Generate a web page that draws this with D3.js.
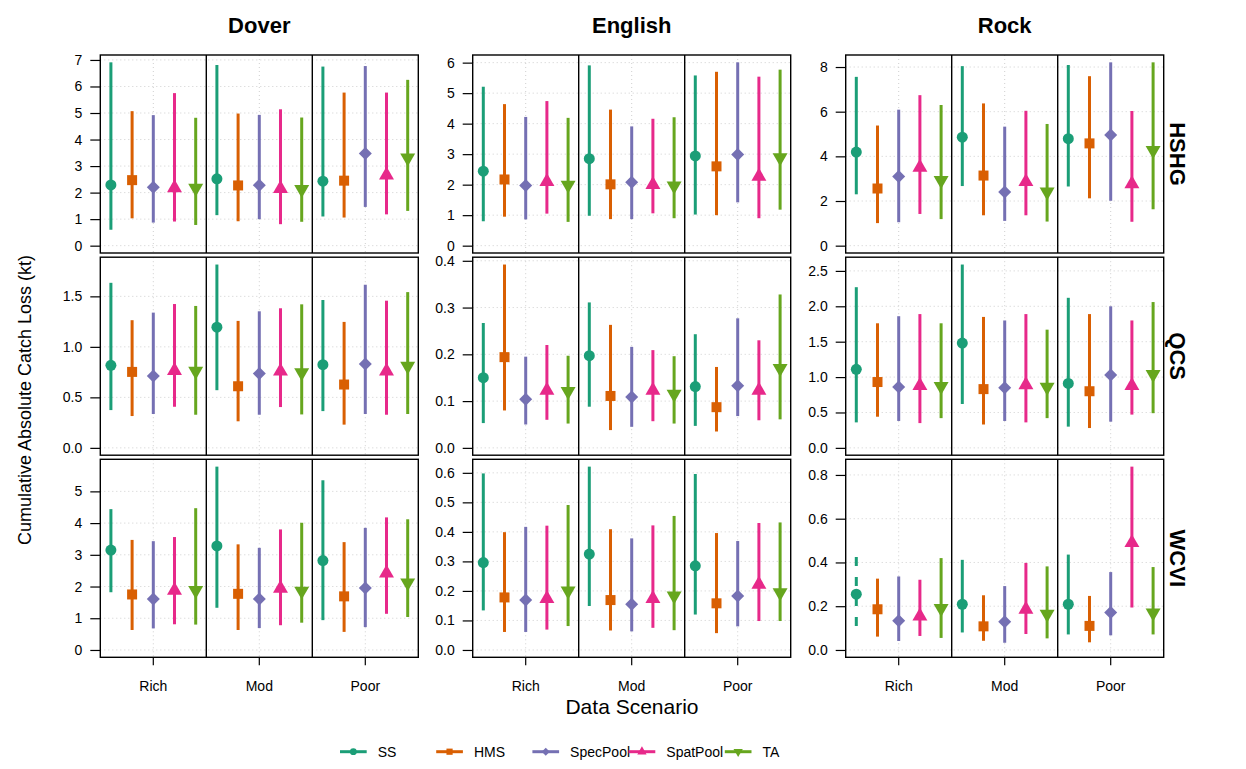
<!DOCTYPE html>
<html><head><meta charset="utf-8">
<script src="https://cdn.jsdelivr.net/npm/d3@7"></script>
<style>body{margin:0;background:#fff} text{font-family:"Liberation Sans",Arial,Helvetica,sans-serif;fill:#000}</style>
</head><body><svg id="c" width="1246" height="769"></svg>
<script>
const columns = ["Dover","English","Rock"];
const rows = ["HSHG","QCS","WCVI"];
const scenarios = ["Rich","Mod","Poor"];
const methods = ["SS","HMS","SpecPool","SpatPool","TA"];
const colors = ["#1B9E77","#D95F02","#7570B3","#E7298A","#66A61E"];

// each array: 15 values, order = Rich(SS,HMS,SpecPool,SpatPool,TA), Mod(...), Poor(...)
const doverHSHG_mid = [2.29,2.47,2.20,2.18,2.17, 2.52,2.27,2.28,2.15,2.12, 2.43,2.45,3.47,2.66,3.31];
const doverHSHG_lo  = [0.60,1.03,0.87,0.91,0.78, 1.15,0.92,1.00,0.81,0.90, 1.10,1.06,1.46,1.18,1.31];
const doverHSHG_hi  = [6.91,5.07,4.92,5.75,4.82, 6.81,4.98,4.93,5.14,4.83, 6.75,5.77,6.77,5.77,6.25];

const doverQCS_mid = [0.817,0.752,0.712,0.765,0.760, 1.195,0.610,0.735,0.758,0.745, 0.824,0.627,0.830,0.760,0.810];
const doverQCS_lo  = [0.374,0.315,0.335,0.407,0.328, 0.571,0.263,0.328,0.404,0.331, 0.364,0.230,0.335,0.328,0.335];
const doverQCS_hi  = [1.634,1.264,1.339,1.424,1.405, 1.815,1.257,1.352,1.382,1.421, 1.464,1.247,1.615,1.457,1.542];

const doverWCVI_mid = [3.15,1.75,1.61,1.88,1.88, 3.28,1.77,1.61,1.94,1.86, 2.82,1.69,1.95,2.42,2.12];
const doverWCVI_lo  = [1.82,0.63,0.68,0.81,0.80, 1.33,0.63,0.69,0.78,0.86, 0.94,0.57,0.72,1.14,1.04];
const doverWCVI_hi  = [4.44,3.47,3.43,3.56,4.47, 5.78,3.33,3.22,3.80,4.01, 5.35,3.40,3.85,4.18,4.12];

const englishHSHG_mid = [2.44,2.17,1.97,2.10,1.99, 2.85,2.01,2.08,2.00,1.96, 2.94,2.60,2.99,2.27,2.89];
const englishHSHG_lo  = [0.80,0.95,0.86,1.05,0.78, 0.98,0.87,0.87,1.06,0.90, 1.02,1.00,1.42,0.90,1.18];
const englishHSHG_hi  = [5.21,4.64,4.22,4.74,4.19, 5.91,4.46,3.91,4.16,4.21, 5.58,5.70,6.01,5.54,5.77];

const englishQCS_mid = [0.150,0.194,0.104,0.123,0.121, 0.197,0.111,0.109,0.123,0.115, 0.131,0.087,0.133,0.123,0.170];
const englishQCS_lo  = [0.053,0.080,0.050,0.060,0.052, 0.088,0.038,0.045,0.057,0.052, 0.047,0.035,0.068,0.059,0.061];
const englishQCS_hi  = [0.267,0.392,0.195,0.220,0.197, 0.311,0.263,0.216,0.209,0.196, 0.243,0.173,0.277,0.230,0.328];

const englishWCVI_mid = [0.296,0.178,0.169,0.174,0.200, 0.325,0.169,0.155,0.174,0.183, 0.285,0.158,0.183,0.222,0.194];
const englishWCVI_lo  = [0.134,0.061,0.061,0.069,0.081, 0.149,0.066,0.063,0.075,0.067, 0.120,0.057,0.080,0.098,0.098];
const englishWCVI_hi  = [0.598,0.399,0.417,0.421,0.491, 0.621,0.409,0.378,0.422,0.454, 0.596,0.396,0.369,0.430,0.432];

const rockHSHG_mid = [4.19,2.56,3.10,3.50,2.93, 4.86,3.14,2.40,2.86,2.41, 4.79,4.58,4.96,2.77,4.27];
const rockHSHG_lo  = [2.30,1.01,1.05,1.42,1.19, 2.67,1.36,1.11,1.36,1.08, 2.65,2.12,2.01,1.07,1.63];
const rockHSHG_hi  = [7.56,5.38,6.09,6.74,6.30, 8.04,6.37,5.33,6.04,5.45, 8.09,7.59,8.21,6.03,8.21];

const rockQCS_mid = [1.11,0.93,0.86,0.88,0.87, 1.48,0.83,0.85,0.89,0.86, 0.91,0.80,1.03,0.88,1.04];
const rockQCS_lo  = [0.36,0.44,0.38,0.35,0.42, 0.62,0.33,0.38,0.36,0.42, 0.30,0.28,0.37,0.47,0.49];
const rockQCS_hi  = [2.27,1.76,1.86,1.89,1.76, 2.59,1.85,1.80,1.89,1.67, 2.12,1.89,2.00,1.80,2.06];

const rockWCVI_mid = [0.255,0.186,0.133,0.155,0.190, 0.209,0.108,0.129,0.185,0.164, 0.209,0.110,0.171,0.490,0.170];
const rockWCVI_lo  = [0.109,0.061,0.041,0.064,0.055, 0.080,0.042,0.033,0.073,0.053, 0.071,0.035,0.067,0.194,0.071];
const rockWCVI_hi  = [0.467,0.326,0.336,0.321,0.420, 0.412,0.250,0.292,0.398,0.382, 0.436,0.247,0.356,0.838,0.379];

// y tick labels per panel
const ticksDoverHSHG = ["0","1","2","3","4","5","6","7"];
const ticksDoverQCS = ["0.0","0.5","1.0","1.5"];
const ticksDoverWCVI = ["0","1","2","3","4","5"];
const ticksEnglishHSHG = ["0","1","2","3","4","5","6"];
const ticksEnglishQCS = ["0.0","0.1","0.2","0.3","0.4"];
const ticksEnglishWCVI = ["0.0","0.1","0.2","0.3","0.4","0.5","0.6"];
const ticksRockHSHG = ["0","2","4","6","8"];
const ticksRockQCS = ["0.0","0.5","1.0","1.5","2.0","2.5"];
const ticksRockWCVI = ["0.0","0.2","0.4","0.6","0.8"];

const panelData = {
  "Dover|HSHG": [doverHSHG_mid, doverHSHG_lo, doverHSHG_hi, ticksDoverHSHG],
  "Dover|QCS": [doverQCS_mid, doverQCS_lo, doverQCS_hi, ticksDoverQCS],
  "Dover|WCVI": [doverWCVI_mid, doverWCVI_lo, doverWCVI_hi, ticksDoverWCVI],
  "English|HSHG": [englishHSHG_mid, englishHSHG_lo, englishHSHG_hi, ticksEnglishHSHG],
  "English|QCS": [englishQCS_mid, englishQCS_lo, englishQCS_hi, ticksEnglishQCS],
  "English|WCVI": [englishWCVI_mid, englishWCVI_lo, englishWCVI_hi, ticksEnglishWCVI],
  "Rock|HSHG": [rockHSHG_mid, rockHSHG_lo, rockHSHG_hi, ticksRockHSHG],
  "Rock|QCS": [rockQCS_mid, rockQCS_lo, rockQCS_hi, ticksRockQCS],
  "Rock|WCVI": [rockWCVI_mid, rockWCVI_lo, rockWCVI_hi, ticksRockWCVI]
};

// layout
const colX = [100.3, 472.7, 845.7];
const panelW = 318;
const rowY = [55, 257.2, 459.3];
const panelH = 198;

const svg = d3.select("#c");
svg.append("rect").attr("width",1246).attr("height",769).attr("fill","#fff");

function symbolFor(mi, scale) {
  const s = scale || 1;
  const types = [d3.symbolCircle, d3.symbolSquare, d3.symbolSquare, d3.symbolTriangle, d3.symbolTriangle];
  const sizes = [95, 100, 84.5, 97, 97];
  return d3.symbol().type(types[mi]).size(sizes[mi]*s*s)();
}
function symbolRot(mi) { return mi === 2 ? 45 : (mi === 4 ? 180 : 0); }

const gridColor = "#cfcfcf";

columns.forEach((col, ci) => {
  const x0 = colX[ci];
  svg.append("text").attr("x", x0 + panelW/2).attr("y", 33.3)
    .attr("text-anchor","middle").attr("font-size",22).attr("font-weight","bold").text(col);
  const xScen = d3.scaleBand().domain(scenarios).range([x0, x0 + panelW]);
  rows.forEach((row, ri) => {
    const y0 = rowY[ri];
    const [mid, lo, hi, tickLabels] = panelData[col + "|" + row];
    const M = d3.max(hi);
    const y = d3.scaleLinear().domain([-0.04*M, 1.04*M]).range([y0 + panelH, y0]);
    const g = svg.append("g");
    const tickVals = tickLabels.map(Number);
    g.selectAll(".hg").data(tickVals).enter().append("line")
      .attr("x1", x0).attr("x2", x0 + panelW)
      .attr("y1", d => y(d)).attr("y2", d => y(d))
      .attr("stroke", gridColor).attr("stroke-width",1).attr("stroke-dasharray","1,3");
    g.selectAll(".vg").data(scenarios).enter().append("line")
      .attr("x1", d => xScen(d) + xScen.bandwidth()/2).attr("x2", d => xScen(d) + xScen.bandwidth()/2)
      .attr("y1", y0).attr("y2", y0 + panelH)
      .attr("stroke", gridColor).attr("stroke-width",1).attr("stroke-dasharray","1,3");
    const ax = d3.axisLeft(y).tickValues(tickVals).tickFormat((d,i) => tickLabels[i])
      .tickSize(10).tickPadding(8);
    const ag = svg.append("g").attr("transform", `translate(${x0},0)`).call(ax);
    ag.select(".domain").remove();
    ag.selectAll(".tick line").attr("stroke","#000").attr("stroke-width",1.2);
    ag.selectAll("text").attr("font-size",14).attr("font-family","Liberation Sans, Arial, sans-serif").attr("fill","#000");
    scenarios.forEach((sc, si) => {
      const xm = d3.scaleBand().domain(methods).range([xScen(sc), xScen(sc) + xScen.bandwidth()]);
      methods.forEach((m, mi) => {
        const k = si*5 + mi;
        const cx = xm(m) + xm.bandwidth()/2;
        const dashed = (col === "Rock" && row === "WCVI" && sc === "Rich" && m === "SS");
        g.append("line").attr("x1", cx).attr("x2", cx)
          .attr("y1", y(lo[k])).attr("y2", y(hi[k]))
          .attr("stroke", colors[mi]).attr("stroke-width", 3)
          .attr("stroke-dasharray", dashed ? "9,11" : null);
        g.append("path").attr("d", symbolFor(mi))
          .attr("transform", `translate(${cx},${y(mid[k])}) rotate(${symbolRot(mi)})`)
          .attr("fill", colors[mi]);
      });
    });
    [1,2].forEach(i => {
      g.append("line").attr("x1", x0 + i*panelW/3).attr("x2", x0 + i*panelW/3)
        .attr("y1", y0).attr("y2", y0 + panelH).attr("stroke","#000").attr("stroke-width",1.4);
    });
    g.append("rect").attr("x", x0).attr("y", y0).attr("width", panelW).attr("height", panelH)
      .attr("fill","none").attr("stroke","#000").attr("stroke-width",1.4);
    if (ri === rows.length - 1) {
      const xa = d3.axisBottom(xScen).tickSize(8).tickPadding(15.5);
      const xg = svg.append("g").attr("transform", `translate(0,${y0 + panelH})`).call(xa);
      xg.select(".domain").remove();
      xg.selectAll(".tick line").attr("stroke","#000").attr("stroke-width",1.2);
      xg.selectAll("text").attr("font-size",14).attr("font-family","Liberation Sans, Arial, sans-serif").attr("fill","#000");
    }
    if (ci === columns.length - 1) {
      svg.append("text").attr("transform", `translate(1170,${y0 + panelH/2}) rotate(90)`)
        .attr("text-anchor","middle").attr("font-size",22).attr("font-weight","bold").text(row);
    }
  });
});

svg.append("text").attr("transform","translate(31,400) rotate(-90)")
  .attr("text-anchor","middle").attr("font-size",18).text("Cumulative Absolute Catch Loss (kt)");
svg.append("text").attr("x", 632).attr("y", 713.5)
  .attr("text-anchor","middle").attr("font-size",21).text("Data Scenario");

const legY = 751.7;
methods.forEach((m, mi) => {
  const lx = 340 + mi*96.2;
  svg.append("line").attr("x1", lx).attr("x2", lx + 26.7).attr("y1", legY).attr("y2", legY)
    .attr("stroke", colors[mi]).attr("stroke-width", 3);
  svg.append("path").attr("d", symbolFor(mi, 0.62))
    .attr("transform", `translate(${lx + 13.35},${legY}) rotate(${symbolRot(mi)})`)
    .attr("fill", colors[mi]);
  svg.append("text").attr("x", lx + 37.7).attr("y", legY + 5).attr("font-size",14).text(m);
});
</script></body></html>
